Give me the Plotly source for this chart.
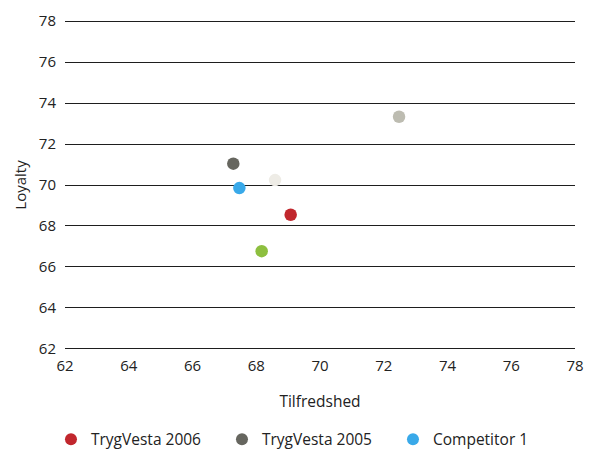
import plotly.graph_objects as go

names = ["TrygVesta 2006", "TrygVesta 2005", "Competitor 1", "Other A", "Other B", "Other C"]
tilfredshed = [69.08, 67.28, 67.47, 68.17, 72.48, 68.59]
loyalty = [68.55, 71.04, 69.85, 66.77, 73.33, 70.24]
colors = ["#C1272D", "#66665F", "#39A9E9", "#8DBF3F", "#BDBCB1", "#EEECE6"]
in_legend = [True, True, True, False, False, False]

x_ticks = [62, 64, 66, 68, 70, 72, 74, 76, 78]
y_ticks = [62, 64, 66, 68, 70, 72, 74, 76, 78]

fig = go.Figure()
for n, xv, yv, c, sl in zip(names, tilfredshed, loyalty, colors, in_legend):
    fig.add_trace(go.Scatter(
        x=[xv], y=[yv], mode="markers", name=n, showlegend=sl,
        marker=dict(size=12.5, color=c, line=dict(width=0)),
    ))

font = "Open Sans, Noto Sans, sans-serif"
fig.update_layout(
    width=590, height=452,
    margin=dict(l=65, r=15, t=20, b=102, autoexpand=False),
    paper_bgcolor="white", plot_bgcolor="white",
    font=dict(family=font, size=15, color="#222222"),
    xaxis=dict(
        range=[62, 78], tickvals=x_ticks, showgrid=False, zeroline=False,
        showline=False, ticks="", ticklabelstandoff=5,
        title=dict(text="Tilfredshed", standoff=22, font=dict(size=15.5)),
    ),
    yaxis=dict(
        range=[61.95, 78.05], tickvals=y_ticks, showgrid=True, gridcolor="#1e1e1e",
        gridwidth=1.2, zeroline=False, showline=False, ticks="",
        ticklabelstandoff=8,
        title=dict(text="Loyalty", standoff=8, font=dict(size=15)),
    ),
    legend=dict(
        orientation="h", x=-0.0275, xanchor="left", y=-0.272, yanchor="middle",
        entrywidth=126, entrywidthmode="pixels", font=dict(size=15.5),
        itemsizing="constant",
    ),
)

fig.write_html("out.html")
